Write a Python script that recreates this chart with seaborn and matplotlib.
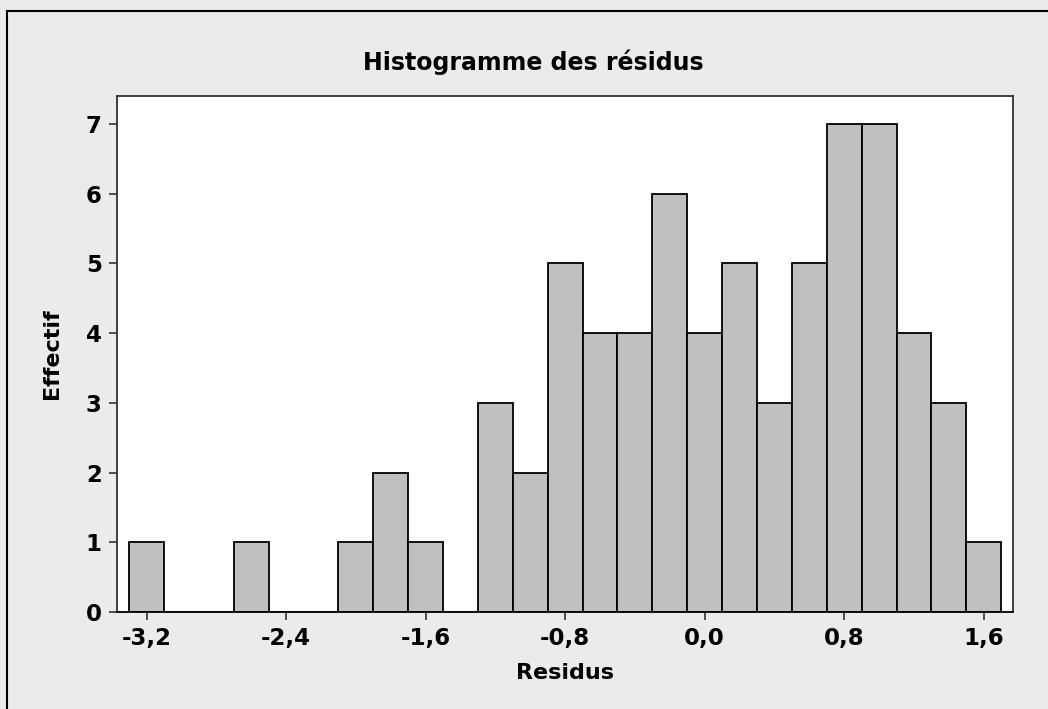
import matplotlib
matplotlib.use('Agg')
import matplotlib.pyplot as plt
import seaborn as sns
import numpy as np
import pandas as pd
from matplotlib.patches import Rectangle
from matplotlib.ticker import FuncFormatter

# centres des classes (largeur 0,2) et effectifs
residus = [-3.2, -3.0, -2.8, -2.6, -2.4, -2.2, -2.0, -1.8, -1.6, -1.4, -1.2, -1.0, -0.8,
           -0.6, -0.4, -0.2, 0.0, 0.2, 0.4, 0.6, 0.8, 1.0, 1.2, 1.4, 1.6]
effectif = [1, 0, 0, 1, 0, 0, 1, 2, 1, 0, 3, 2, 5,
            4, 4, 6, 4, 5, 3, 5, 7, 7, 4, 3, 1]
xticks = [-3.2, -2.4, -1.6, -0.8, 0.0, 0.8, 1.6]
yticks = [0, 1, 2, 3, 4, 5, 6, 7]

data = pd.DataFrame({'Residus': residus, 'Effectif': effectif})
largeur = 0.2
debut = residus[0] - largeur / 2
fin = residus[-1] + largeur / 2

sns.set_style('white')
plt.rcParams['font.family'] = ['DejaVu Sans']
plt.rcParams['font.weight'] = 'bold'
plt.rcParams['text.color'] = 'black'
plt.rcParams['axes.labelcolor'] = 'black'
plt.rcParams['xtick.color'] = 'black'
plt.rcParams['ytick.color'] = 'black'

fig = plt.figure(figsize=(10.48, 7.09), dpi=100, facecolor='#EBEBEB')
ax = fig.add_axes([117 / 1048, 1 - 612 / 709, (1013 - 117) / 1048, (612 - 96) / 709])
ax.set_facecolor('white')

sns.histplot(data, x='Residus', weights='Effectif', binwidth=largeur, binrange=(debut, fin), ax=ax,
             color='#C0C0C0', edgecolor='black', linewidth=1.3, alpha=1)

ax.set_xlim(-3.37, 1.768)
ax.set_ylim(0, 7.4)
ax.set_xticks(xticks)
ax.set_yticks(yticks)
ax.xaxis.set_major_formatter(FuncFormatter(lambda v, p: f'{v:.1f}'.replace('.', ',').replace('-0,0', '0,0')))
ax.tick_params(axis='both', direction='out', length=6, width=1.2, color='#333333',
               labelsize=16.5, labelcolor='black', bottom=True, left=True)
ax.tick_params(axis='x', pad=5)
ax.tick_params(axis='y', pad=5)
for lab in ax.get_xticklabels() + ax.get_yticklabels():
    lab.set_fontweight('bold')

for s in ax.spines.values():
    s.set_color('#333333')
    s.set_linewidth(1.3)
ax.spines['bottom'].set_color('black')

ax.set_xlabel('Residus', fontsize=16, fontweight='bold', labelpad=9)
ax.set_ylabel('Effectif', fontsize=16, fontweight='bold', labelpad=17)

fig.text(533 / 1048, 1 - 62 / 709, 'Histogramme des résidus', ha='center', va='center',
         fontsize=17, fontweight='bold')

# cadre extérieur
fig.patches.append(Rectangle((7 / 1048, -0.1), 1.2, 1.1 - 11 / 709, transform=fig.transFigure,
                             fill=False, edgecolor='black', linewidth=1.5, clip_on=False))

fig.savefig('out.png', dpi=100, facecolor=fig.get_facecolor())
